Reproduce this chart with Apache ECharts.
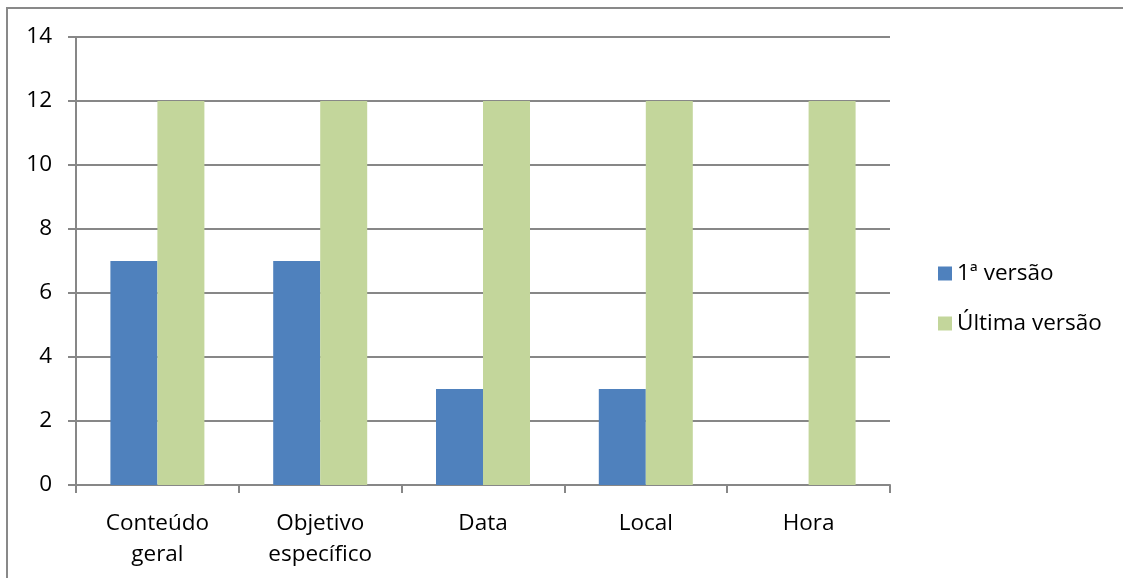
<!DOCTYPE html>
<html>
<head>
<meta charset="utf-8">
<script src="https://cdn.jsdelivr.net/npm/echarts@6/dist/echarts.min.js"></script>
<style>
  html, body { margin: 0; padding: 0; background: #fff; }
  #chart { width: 1123px; height: 578px; }
</style>
</head>
<body>
<div id="chart"></div>
<script>
// Categories and values per version
const categories = ['Conteúdo\ngeral', 'Objetivo\nespecífico', 'Data', 'Local', 'Hora'];
const firstVersion = [7, 7, 3, 3, 0];
const lastVersion = [12, 12, 12, 12, 12];
const seriesNames = ['1ª versão', 'Última versão'];

const FONT = '"Open Sans", Lato, sans-serif';
const FONT_SIZE = 22.5;
const GRID_COLOR = '#878787';

const chart = echarts.init(document.getElementById('chart'), null, { renderer: 'canvas' });

chart.setOption({
  backgroundColor: '#ffffff',
  animation: false,
  graphic: [{
    type: 'rect',
    shape: { x: 7, y: 8, width: 1200, height: 700 },
    style: { fill: 'none', stroke: '#898989', lineWidth: 2 },
    silent: true
  }],
  grid: { left: 76, top: 37, right: 233, bottom: 93, containLabel: false },
  legend: {
    orient: 'vertical',
    left: 933,
    top: 257,
    itemWidth: 14,
    itemHeight: 14,
    itemGap: 27,
    icon: 'rect',
    textStyle: { fontFamily: FONT, fontSize: FONT_SIZE, color: '#000' },
    data: seriesNames
  },
  xAxis: {
    type: 'category',
    data: categories,
    axisLine: { lineStyle: { color: GRID_COLOR, width: 2 } },
    axisTick: { show: true, length: 8, lineStyle: { color: GRID_COLOR, width: 2 } },
    axisLabel: {
      fontFamily: FONT, fontSize: FONT_SIZE, color: '#000',
      margin: 23, lineHeight: 31, interval: 0
    }
  },
  yAxis: {
    type: 'value',
    min: 0, max: 14, interval: 2,
    axisLine: { show: true, lineStyle: { color: GRID_COLOR, width: 2 } },
    axisTick: { show: true, length: 8, lineStyle: { color: GRID_COLOR, width: 2 } },
    splitLine: { lineStyle: { color: GRID_COLOR, width: 2 } },
    axisLabel: { fontFamily: FONT, fontSize: FONT_SIZE, color: '#000', margin: 24 }
  },
  series: [
    {
      name: seriesNames[0],
      type: 'bar',
      data: firstVersion,
      barWidth: 47,
      barGap: '0%',
      itemStyle: { color: '#4F81BD' }
    },
    {
      name: seriesNames[1],
      type: 'bar',
      data: lastVersion,
      barWidth: 47,
      barGap: '0%',
      itemStyle: { color: '#C3D69B' }
    }
  ]
});
</script>
</body>
</html>
